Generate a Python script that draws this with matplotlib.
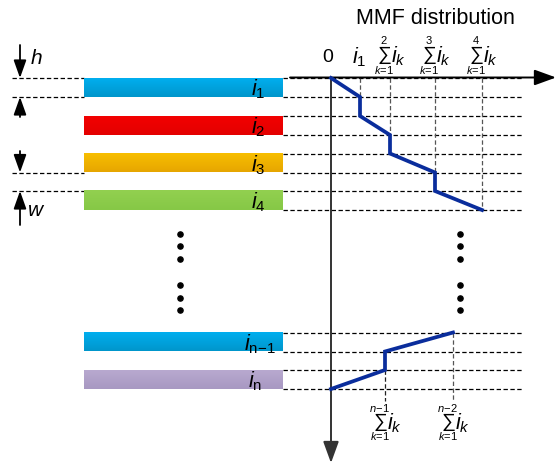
import numpy as np
import matplotlib
matplotlib.use("Agg")
import matplotlib.pyplot as plt
from matplotlib.colors import to_rgb

plt.rcParams['font.family'] = ['Liberation Sans', 'DejaVu Sans']
plt.rcParams['mathtext.fontset'] = 'custom'
plt.rcParams['mathtext.rm'] = 'Liberation Sans'
plt.rcParams['mathtext.it'] = 'Liberation Sans:italic'
plt.rcParams['mathtext.bf'] = 'Liberation Sans:bold'

# ---------------- data ----------------
slot_labels = [r'$i_1$', r'$i_2$', r'$i_3$', r'$i_4$', r'$i_{\rm n\!-\!1}$', r'$i_{\rm n}$']
slot_top_colors = ['#00AEEF', '#F20000', '#F8BE00', '#92D050', '#00AEEF', '#B8A9CF']
slot_bot_colors = ['#0096CB', '#E40000', '#E6A600', '#86C846', '#0096CB', '#A898C2']
# cumulative MMF values (arbitrary units) at the top group slots
mmf_top = [0, 29, 59, 104, 151]
mmf_top_upper = ['2', '3', '4']
# cumulative MMF values for the last two slots (n-2, n-1, then back to 0)
mmf_bot = [122, 54, 0]
mmf_bot_upper = [r'$n\!-\!2$', r'$n\!-\!1$']

# ---------------- layout ----------------
W, H = 556, 464
fig = plt.figure(figsize=(W / 100, H / 100), dpi=100)
ax = fig.add_axes([0, 0, 1, 1])
ax.set_xlim(0, W)
ax.set_ylim(H, 0)
ax.axis('off')

slot_tops = [79, 117, 154.5, 192, 333.5, 371]
slot_h = 19
bar_x0, bar_x1 = 84, 283
label_x = [251, 251, 251, 251, 244, 248]
x0 = 331            # MMF origin
dash_end = 522
BLUE = '#0A2D9C'

# bars with gradient
for i, (lab, ct, cb) in enumerate(zip(slot_labels, slot_top_colors, slot_bot_colors)):
    t = slot_tops[i]
    g = np.linspace(0, 1, 32)[:, None, None]
    img = (1 - g) * np.array(to_rgb(ct)) + g * np.array(to_rgb(cb))
    img = np.repeat(img, 2, axis=1)
    ax.imshow(img, extent=(bar_x0, bar_x1, t + slot_h, t), aspect='auto',
              interpolation='bilinear', zorder=2)
    ax.text(label_x[i], t + slot_h / 2 + 1, lab, ha='left', va='center',
            fontsize=15.5, zorder=3)

# right dashed lines at slot edges
for t in slot_tops:
    for y in (t, t + slot_h):
        ax.plot([bar_x1, dash_end], [y, y], color='black', lw=0.9,
                dashes=(3.5, 2), zorder=1)

# left dashed lines
for y in (slot_tops[0], slot_tops[0] + slot_h, slot_tops[2] + slot_h, slot_tops[3]):
    ax.plot([12, bar_x0], [y, y], color='black', lw=0.9, dashes=(3.5, 2), zorder=1)

# dimension arrows
def arrow(x, y_from, y_to, lw=1.3):
    ax.annotate('', xy=(x, y_to), xytext=(x, y_from),
                arrowprops=dict(arrowstyle='-|>,head_length=0.9,head_width=0.32',
                                color='black', lw=lw, shrinkA=0, shrinkB=0,
                                mutation_scale=12))

arrow(20, 46, slot_tops[0])
arrow(20, 118, slot_tops[0] + slot_h)
arrow(20, 152, slot_tops[2] + slot_h)
arrow(20, 226, slot_tops[3])
ax.text(36, 58, r'$h$', ha='center', va='center', fontsize=15)
ax.text(36, 211, r'$w$', ha='center', va='center', fontsize=15)

# axes of MMF diagram
ax.annotate('', xy=(W, 78.5), xytext=(290, 78.5),
            arrowprops=dict(arrowstyle='-|>,head_length=1.1,head_width=0.4',
                            color='black', lw=1.4, shrinkA=0, shrinkB=0,
                            mutation_scale=12), zorder=4)
ax.annotate('', xy=(x0, 464), xytext=(x0, 78.5),
            arrowprops=dict(arrowstyle='-|>,head_length=1.1,head_width=0.4',
                            color='#333333', lw=1.4, shrinkA=0, shrinkB=0,
                            mutation_scale=12), zorder=4)

ax.text(435, 19, 'MMF distribution', ha='center', va='center', fontsize=15.5)
ax.text(328, 57, '0', ha='center', va='center', fontsize=14)


def sum_label(xv, yc, upper):
    xs = xv - 6
    ax.text(xs, yc - 1, '\u2211', fontsize=14, ha='center', va='center')
    ax.text(xs - 0.5, yc - 15, upper, fontsize=8, ha='center', va='center')
    ax.text(xs, yc + 13.5, r'$k\!=\!1$', fontsize=8, ha='center', va='center')
    ax.text(xv + 1, yc, r'$i_k$', fontsize=15.5, ha='left', va='center')


# top MMF staircase
xs, ys = [x0 + mmf_top[0]], [slot_tops[0]]
for k in range(4):
    xs.append(x0 + mmf_top[k + 1]); ys.append(slot_tops[k] + slot_h)
    if k < 3:
        xs.append(x0 + mmf_top[k + 1]); ys.append(slot_tops[k + 1])
ax.plot(xs, ys, color=BLUE, lw=2.7, solid_joinstyle='miter', zorder=5)

for k in range(4):
    xv = x0 + mmf_top[k + 1]
    ax.plot([xv, xv], [79, slot_tops[k] + slot_h], color='#555555', lw=0.9,
            dashes=(3.5, 2), zorder=1)
    if k == 0:
        ax.text(xv - 1, 57, r'$i_1$', ha='center', va='center', fontsize=15.5)
    else:
        sum_label(xv, 56, mmf_top_upper[k - 1])

# bottom MMF staircase
bx = [x0 + mmf_bot[0], x0 + mmf_bot[1], x0 + mmf_bot[1], x0 + mmf_bot[2]]
by = [slot_tops[4], slot_tops[4] + slot_h, slot_tops[5], slot_tops[5] + slot_h]
ax.plot(bx, by, color=BLUE, lw=2.7, solid_joinstyle='miter', zorder=5)

ax.plot([x0 + mmf_bot[0]] * 2, [slot_tops[4], 402], color='#555555', lw=0.9,
        dashes=(3.5, 2), zorder=1)
ax.plot([x0 + mmf_bot[1]] * 2, [slot_tops[5], 402], color='#222222', lw=0.9,
        dashes=(3.5, 2), zorder=1)
sum_label(x0 + mmf_bot[0] + 1, 423, mmf_bot_upper[0])
sum_label(x0 + mmf_bot[1] + 1, 423, mmf_bot_upper[1])

# ellipsis dots
dot_y = [234.5, 247, 259.5, 286, 298.5, 311]
ax.scatter([180] * 6, dot_y, s=14, color='black', zorder=3)
ax.scatter([460] * 6, dot_y, s=14, color='black', zorder=3)

fig.savefig('out.png', dpi=100)
